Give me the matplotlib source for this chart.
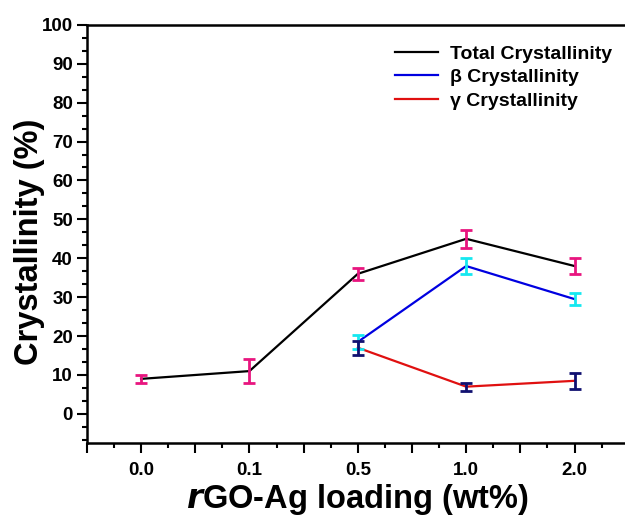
import numpy as np
import matplotlib.pyplot as plt
from matplotlib.ticker import MultipleLocator, NullFormatter

plt.rcParams['font.family'] = ['Liberation Sans', 'DejaVu Sans']
plt.rcParams['font.weight'] = 'bold'

# данные
loading_labels = ['0.0', '0.1', '0.5', '1.0', '2.0']
total = [9.0, 11.0, 36.0, 45.0, 38.0]
total_err = [1.0, 3.0, 1.5, 2.3, 2.0]
beta_idx = [2, 3, 4]
beta = [18.5, 38.0, 29.5]
beta_err = [1.8, 2.0, 1.5]
gamma_idx = [2, 3, 4]
gamma = [17.0, 7.0, 8.5]
gamma_err = [1.8, 1.0, 2.0]

fig = plt.figure(figsize=(6.25, 5.17), dpi=100)
ax = fig.add_axes([0.139, 0.143, 1.006 - 0.139, 0.952 - 0.143])

x = np.arange(len(loading_labels))
ax.plot(x, total, color='black', lw=1.6, label='Total Crystallinity', zorder=2)
ax.plot(beta_idx, beta, color='#0000e0', lw=1.6, label='\u03b2 Crystallinity', zorder=2)
ax.plot(gamma_idx, gamma, color='#e01010', lw=1.6, label='\u03b3 Crystallinity', zorder=2)

ax.errorbar(x, total, yerr=total_err, fmt='none', ecolor='#e8157f',
            elinewidth=2, capsize=4, capthick=2, zorder=3)
ax.errorbar(beta_idx, beta, yerr=beta_err, fmt='none', ecolor='#15e8f0',
            elinewidth=2, capsize=4, capthick=2, zorder=3)
ax.errorbar(gamma_idx, gamma, yerr=gamma_err, fmt='none', ecolor='#101070',
            elinewidth=2, capsize=4, capthick=2, zorder=4)

ax.set_xlim(-0.5, 4.5)
ax.set_ylim(-7.5, 100)

# major ticks every 0.5, labels only on the data positions
ax.xaxis.set_major_locator(MultipleLocator(0.5))
ax.xaxis.set_minor_locator(MultipleLocator(0.25))
ax.xaxis.set_major_formatter(NullFormatter())
for i, lab in enumerate(loading_labels):
    ax.text(i, -0.045, lab, transform=ax.get_xaxis_transform(), ha='center', va='top',
            fontsize=13.5, fontweight='bold')

ax.yaxis.set_major_locator(MultipleLocator(10))
ax.yaxis.set_minor_locator(MultipleLocator(10 / 3))
ax.tick_params(axis='both', which='major', direction='out', length=7, width=1.5,
               labelsize=13.5, pad=3)
ax.tick_params(axis='both', which='minor', direction='out', length=3.5, width=1.5)
for sp in ax.spines.values():
    sp.set_linewidth(1.8)

ax.set_ylabel('Crystallinity (%)', fontsize=23.5, fontweight='bold')
ax.yaxis.set_label_coords(-0.077, 0.48)
ax.set_xlabel('$\\mathit{r}$GO-Ag loading (wt%)', fontsize=23.5, fontweight='bold')
ax.xaxis.set_label_coords(0.5, -0.092)

ax.legend(loc='upper right', bbox_to_anchor=(612 / 625, 1 - 45 / 517),
          bbox_transform=fig.transFigure, frameon=False, borderpad=0, borderaxespad=0,
          prop={'size': 14, 'weight': 'bold'}, handlelength=2.2, handletextpad=0.6,
          labelspacing=0.3)

fig.savefig('out.png', dpi=100)
